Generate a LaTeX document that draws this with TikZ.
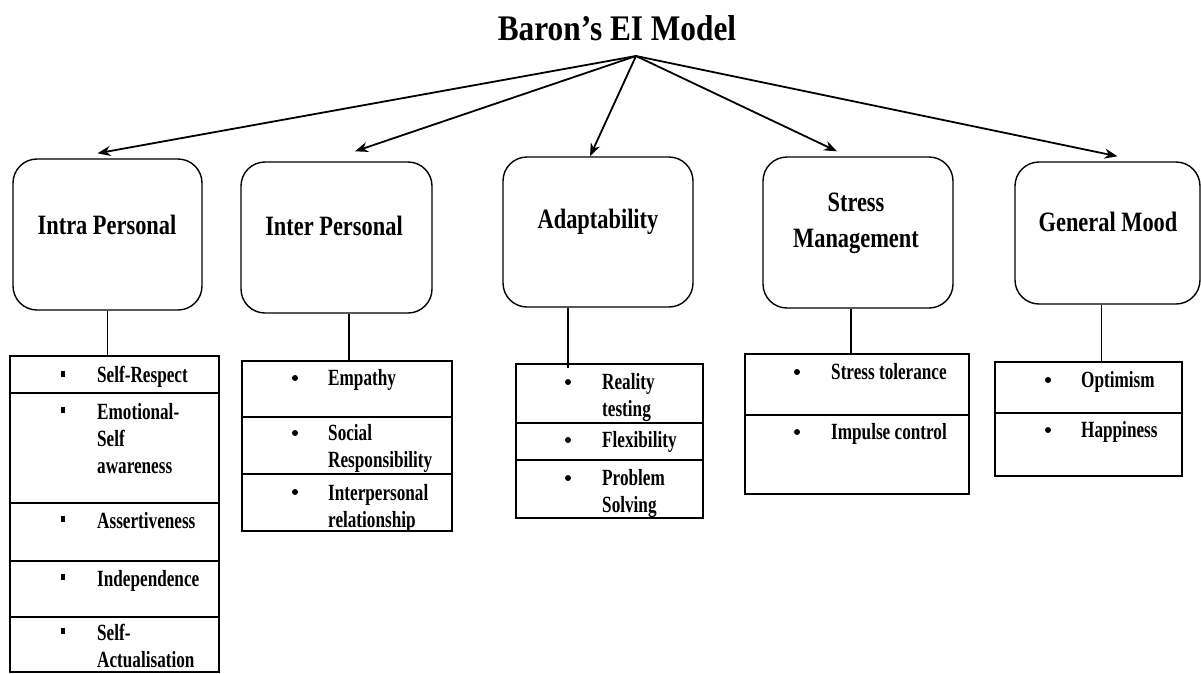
\documentclass[tikz,border=0pt]{standalone}
\usepackage{fontspec}
\setmainfont{Liberation Serif}
\newfontfamily\titlefont{Liberation Serif}[FakeStretch=0.87]
\newfontfamily\headfont{Liberation Serif}[FakeStretch=0.8]
\newfontfamily\listfont{Liberation Serif}[FakeStretch=0.74]
\usetikzlibrary{arrows.meta,calc}

\begin{document}
\begin{tikzpicture}[x=1pt,y=-1pt,
  title/.style={inner sep=0, font=\titlefont\fontsize{36}{42}\selectfont\bfseries},
  hdrbox/.style={draw, line width=1.4pt, rounded corners=24pt, inner sep=0},
  hdrtext/.style={inner sep=0, align=center, font=\headfont\fontsize{28}{36}\selectfont\bfseries},
  cell/.style={draw, line width=1.4pt, inner sep=0},
  item/.style={anchor=north west, inner sep=0, align=left, font=\listfont\fontsize{23.2}{27}\selectfont\bfseries},
  sqbullet/.style={fill, inner sep=0, minimum width=4pt, minimum height=6.5pt},
  rdbullet/.style={circle, fill, inner sep=0, minimum size=6pt},
  arr/.style={line width=1.8pt, -{Stealth[length=13pt,width=10pt]}},
  link/.style={line width=1.2pt}]

\useasboundingbox (0,0) rectangle (1201,673);

% title and the point the arrows leave from
\node[title] (ttl) at (617,28) {Baron’s EI Model};
\coordinate (apex) at (636,56);

% the five competence areas
\node[hdrbox, minimum width=189pt, minimum height=151pt] (h1) at (107.5,234.5) {};
\node[hdrbox, minimum width=191pt, minimum height=151pt] (h2) at (336.5,237.5) {};
\node[hdrbox, minimum width=190pt, minimum height=150pt] (h3) at (598,232) {};
\node[hdrbox, minimum width=190pt, minimum height=151pt] (h4) at (858,232.5) {};
\node[hdrbox, minimum width=185pt, minimum height=142pt] (h5) at (1107.5,233) {};

\node[hdrtext] (h1t) at (107,225) {Intra Personal};
\node[hdrtext] (h2t) at (334,226) {Inter Personal};
\node[hdrtext] (h3t) at (598,222) {Adaptability};
\node[hdrtext] (h4t) at (856,223.5) {Stress\\Management};
\node[hdrtext] (h5t) at (1108,222) {General Mood};

% arrows from the model title
\draw[arr] (apex) -- ([xshift=-10pt,yshift=5pt]h1.north);
\draw[arr] (apex) -- ([xshift=18.5pt,yshift=10pt]h2.north);
\draw[arr] (apex) -- ([xshift=-8pt,yshift=0pt]h3.north);
\draw[arr] (apex) -- ([xshift=-21pt,yshift=5pt]h4.north);
\draw[arr] (apex) -- ([xshift=10pt,yshift=5pt]h5.north);

% column 1 cells
\node[cell, minimum width=209pt, minimum height=37pt]  (c11) at (114.5,374.5) {};
\node[cell, minimum width=209pt, minimum height=110pt] (c12) at (114.5,448) {};
\node[cell, minimum width=209pt, minimum height=58pt]  (c13) at (114.5,532) {};
\node[cell, minimum width=209pt, minimum height=56pt]  (c14) at (114.5,589) {};
\node[cell, minimum width=209pt, minimum height=55pt]  (c15) at (114.5,644.5) {};

% column 2 cells
\node[cell, minimum width=210pt, minimum height=56pt] (c21) at (347,389) {};
\node[cell, minimum width=210pt, minimum height=57pt] (c22) at (347,445.5) {};
\node[cell, minimum width=210pt, minimum height=57pt] (c23) at (347,502.5) {};

% column 3 cells
\node[cell, minimum width=187pt, minimum height=59pt] (c31) at (609.5,393.5) {};
\node[cell, minimum width=187pt, minimum height=37pt] (c32) at (609.5,441.5) {};
\node[cell, minimum width=187pt, minimum height=58pt] (c33) at (609.5,489) {};

% column 4 cells
\node[cell, minimum width=224pt, minimum height=61pt] (c41) at (857,384.5) {};
\node[cell, minimum width=224pt, minimum height=79pt] (c42) at (857,454.5) {};

% column 5 cells
\node[cell, minimum width=187pt, minimum height=51pt] (c51) at (1088.5,387.5) {};
\node[cell, minimum width=187pt, minimum height=63pt] (c52) at (1088.5,444.5) {};

% links from each area to its list
\draw[link] (h1.south) -- (h1.south |- c11.north);
\draw[link] ([xshift=12.5pt]h2.south) -- ([xshift=12.5pt]h2.south |- c21.north);
\draw[link] ([xshift=-30pt]h3.south) -- ($([xshift=-30pt]h3.south |- c31.north)+(0,5)$);
\draw[link] ([xshift=-7pt]h4.south) -- ([xshift=-7pt]h4.south |- c41.north);
\draw[link] ([xshift=-6pt]h5.south) -- ([xshift=-6pt]h5.south |- c51.north);

% column 1 items
\node[sqbullet] (b11) at (63,374) {};
\node[item] (t11) at (97,366) {Self-Respect};
\node[sqbullet] (b12) at (63,410) {};
\node[item] (t12) at (97,403) {Emotional-\\Self\\awareness};
\node[sqbullet] (b13) at (63,519) {};
\node[item] (t13) at (97,512) {Assertiveness};
\node[sqbullet] (b14) at (63,577) {};
\node[item] (t14) at (97,570) {Independence};
\node[sqbullet] (b15) at (63,631) {};
\node[item] (t15) at (97,624) {Self-\\Actualisation};

% column 2 items
\node[rdbullet] (b21) at (295,378) {};
\node[item] (t21) at (328,369) {Empathy};
\node[rdbullet] (b22) at (295,433) {};
\node[item] (t22) at (328,424) {Social\\Responsibility};
\node[rdbullet] (b23) at (295,492) {};
\node[item] (t23) at (328,484) {Interpersonal\\relationship};

% column 3 items
\node[rdbullet] (b31) at (568,382) {};
\node[item] (t31) at (602,373) {Reality\\testing};
\node[rdbullet] (b32) at (568,440) {};
\node[item] (t32) at (602,431) {Flexibility};
\node[rdbullet] (b33) at (568,478) {};
\node[item] (t33) at (602,469) {Problem\\Solving};

% column 4 items
\node[rdbullet] (b41) at (797,372) {};
\node[item] (t41) at (831,363) {Stress tolerance};
\node[rdbullet] (b42) at (797,432) {};
\node[item] (t42) at (831,423) {Impulse control};

% column 5 items
\node[rdbullet] (b51) at (1048,380) {};
\node[item] (t51) at (1081,371) {Optimism};
\node[rdbullet] (b52) at (1048,430) {};
\node[item] (t52) at (1081,421) {Happiness};
\end{tikzpicture}
\end{document}
